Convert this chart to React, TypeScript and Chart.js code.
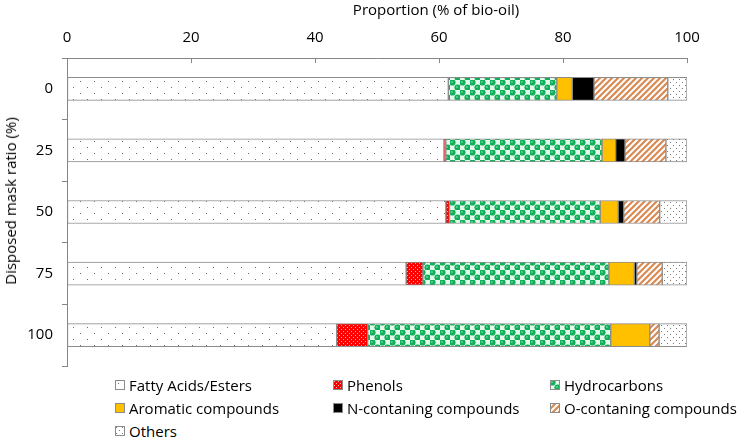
import React, { useEffect, useRef } from "react";
import { Chart, registerables } from "chart.js";

Chart.register(...registerables);

const categories = ["0", "25", "50", "75", "100"];
const fattyAcids = [61.5, 60.8, 61.1, 54.7, 43.5];
const phenols = [0, 0.3, 0.6, 2.7, 5.0];
const hydrocarbons = [17.5, 25.2, 24.3, 30.0, 39.2];
const aromatics = [2.5, 2.2, 2.9, 4.1, 6.3];
const nCompounds = [3.5, 1.5, 0.9, 0.4, 0];
const oCompounds = [11.9, 6.6, 5.8, 4.1, 1.5];
const others = [3.1, 3.4, 4.4, 4.0, 4.5];
const xTicks = [0, 20, 40, 60, 80, 100];

const seriesNames = [
  "Fatty Acids/Esters",
  "Phenols",
  "Hydrocarbons",
  "Aromatic compounds",
  "N-contaning compounds",
  "O-contaning compounds",
  "Others",
];

const xTitle = "Proportion (% of bio-oil)";
const yTitle = "Disposed mask ratio (%)";

const FONT = "'Open Sans', 'Noto Sans', sans-serif";

function makeTile(w: number, h: number, draw: (c: CanvasRenderingContext2D) => void) {
  const cv = document.createElement("canvas");
  cv.width = w;
  cv.height = h;
  const c = cv.getContext("2d")!;
  draw(c);
  return cv;
}

function tiles() {
  const fatty = makeTile(14, 12, (c) => {
    c.fillStyle = "#ffffff";
    c.fillRect(0, 0, 14, 12);
    c.fillStyle = "#6a6a6a";
    c.fillRect(3, 3, 1, 1);
    c.fillRect(10, 9, 1, 1);
  });
  const phen = makeTile(4, 4, (c) => {
    c.fillStyle = "#ff0000";
    c.fillRect(0, 0, 4, 4);
    c.fillStyle = "#ffb0b0";
    c.fillRect(1, 1, 1, 1);
    c.fillRect(3, 3, 1, 1);
  });
  const hydro = makeTile(10, 10, (c) => {
    c.fillStyle = "#e6fbee";
    c.fillRect(0, 0, 10, 10);
    c.fillStyle = "#10b05a";
    const pts = [
      [2.5, 2.5],
      [7.5, 7.5],
    ];
    pts.forEach(([x, y]) => {
      c.beginPath();
      c.arc(x, y, 3.1, 0, Math.PI * 2);
      c.fill();
    });
    c.fillStyle = "#5fd28f";
    pts.forEach(([x, y]) => {
      c.beginPath();
      c.arc(x - 0.6, y - 0.6, 1.0, 0, Math.PI * 2);
      c.fill();
    });
  });
  const oComp = makeTile(6, 6, (c) => {
    c.fillStyle = "#ffffff";
    c.fillRect(0, 0, 6, 6);
    c.strokeStyle = "#d98a52";
    c.lineWidth = 2.2;
    c.beginPath();
    c.moveTo(0, 6);
    c.lineTo(6, 0);
    c.moveTo(-3, 3);
    c.lineTo(3, -3);
    c.moveTo(3, 9);
    c.lineTo(9, 3);
    c.stroke();
  });
  const oth = makeTile(6, 6, (c) => {
    c.fillStyle = "#ffffff";
    c.fillRect(0, 0, 6, 6);
    c.fillStyle = "#7a7a7a";
    c.fillRect(1, 1, 1, 1);
    c.fillRect(4, 4, 1, 1);
  });
  return { fatty, phen, hydro, oComp, oth };
}

function fills(ctx: CanvasRenderingContext2D) {
  const t = tiles();
  return [
    ctx.createPattern(t.fatty, "repeat")!,
    ctx.createPattern(t.phen, "repeat")!,
    ctx.createPattern(t.hydro, "repeat")!,
    "#ffc000",
    "#000000",
    ctx.createPattern(t.oComp, "repeat")!,
    ctx.createPattern(t.oth, "repeat")!,
  ] as any[];
}

const topTicksPlugin = {
  id: "topTicks",
  afterDraw(chart: any) {
    const { ctx, chartArea } = chart;
    const xs = chart.scales.x;
    ctx.save();
    ctx.strokeStyle = "#868686";
    ctx.lineWidth = 1;
    xTicks.forEach((v) => {
      const px = Math.round(xs.getPixelForValue(v)) + 0.5;
      ctx.beginPath();
      ctx.moveTo(px, chartArea.top);
      ctx.lineTo(px, chartArea.top + 5);
      ctx.stroke();
    });
    ctx.restore();
  },
};

function Swatch({ index }: { index: number }) {
  const ref = useRef<HTMLCanvasElement>(null);
  useEffect(() => {
    const c = ref.current!.getContext("2d")!;
    const f = fills(c);
    c.fillStyle = f[index];
    c.fillRect(0, 0, 10, 10);
    c.strokeStyle = "#8c8c8c";
    c.lineWidth = 1;
    c.strokeRect(0.5, 0.5, 9, 9);
  }, [index]);
  return <canvas ref={ref} width={10} height={10} style={{ width: 10, height: 10, marginRight: 4 }} />;
}

export default function App() {
  const canvasRef = useRef<HTMLCanvasElement>(null);

  useEffect(() => {
    const canvas = canvasRef.current!;
    const ctx = canvas.getContext("2d")!;
    const f = fills(ctx);
    const values = [fattyAcids, phenols, hydrocarbons, aromatics, nCompounds, oCompounds, others];
    const chart = new Chart(canvas, {
      type: "bar",
      data: {
        labels: categories,
        datasets: values.map((d, i) => ({
          label: seriesNames[i],
          data: d,
          backgroundColor: f[i],
          borderColor: "#8c8c8c",
          borderWidth: 1,
          borderSkipped: false,
          barThickness: 23,
        })),
      },
      options: {
        indexAxis: "y",
        animation: false,
        responsive: false,
        maintainAspectRatio: false,
        layout: { padding: { left: 0, right: 65, top: 0, bottom: 0 } },
        plugins: {
          legend: { display: false },
          tooltip: { enabled: false },
        },
        scales: {
          x: {
            position: "top",
            stacked: true,
            min: 0,
            max: 100,
            afterBuildTicks: (s: any) => {
              s.ticks = xTicks.map((v) => ({ value: v }));
            },
            afterFit: (s: any) => {
              s.height = 58;
            },
            grid: { display: true, drawOnChartArea: false, drawTicks: false },
            border: { display: true, color: "#868686", width: 1 },
            ticks: { color: "#000", font: { family: FONT, size: 15 }, padding: 11 },
          },
          y: {
            stacked: true,
            afterFit: (s: any) => {
              s.width = 67;
            },
            grid: { display: true, drawOnChartArea: false, offset: true, tickLength: 5, color: "#868686" },
            border: { display: true, color: "#868686", width: 1 },
            ticks: { color: "#000", font: { family: FONT, size: 15 }, padding: 9 },
          },
        },
      } as any,
      plugins: [topTicksPlugin],
    });
    return () => chart.destroy();
  }, []);

  const cols = [115, 333, 550];
  const rows = [376, 399, 422];
  return (
    <div style={{ position: "fixed", left: 0, top: 0, width: 752, height: 440, background: "#fff", overflow: "hidden" }}>
      <canvas ref={canvasRef} width={752} height={384} style={{ position: "absolute", left: 0, top: 0, width: 752, height: 384 }} />
      <div
        style={{
          position: "absolute",
          left: 436,
          top: 0,
          transform: "translateX(-50%)",
          fontFamily: FONT,
          fontSize: 15,
          lineHeight: "18px",
          color: "#000",
          whiteSpace: "nowrap",
        }}
      >
        {xTitle}
      </div>
      <div
        style={{
          position: "absolute",
          left: 10,
          top: 201,
          transform: "translate(-50%, -50%) rotate(-90deg)",
          fontFamily: FONT,
          fontSize: 15,
          lineHeight: "18px",
          color: "#000",
          whiteSpace: "nowrap",
        }}
      >
        {yTitle}
      </div>
      {seriesNames.map((n, i) => (
        <div
          key={n}
          style={{
            position: "absolute",
            left: cols[i % 3],
            top: rows[Math.floor(i / 3)],
            display: "flex",
            alignItems: "center",
            fontFamily: FONT,
            fontSize: 15,
            lineHeight: "18px",
            color: "#000",
            whiteSpace: "nowrap",
          }}
        >
          <Swatch index={i} />
          <span>{n}</span>
        </div>
      ))}
    </div>
  );
}
